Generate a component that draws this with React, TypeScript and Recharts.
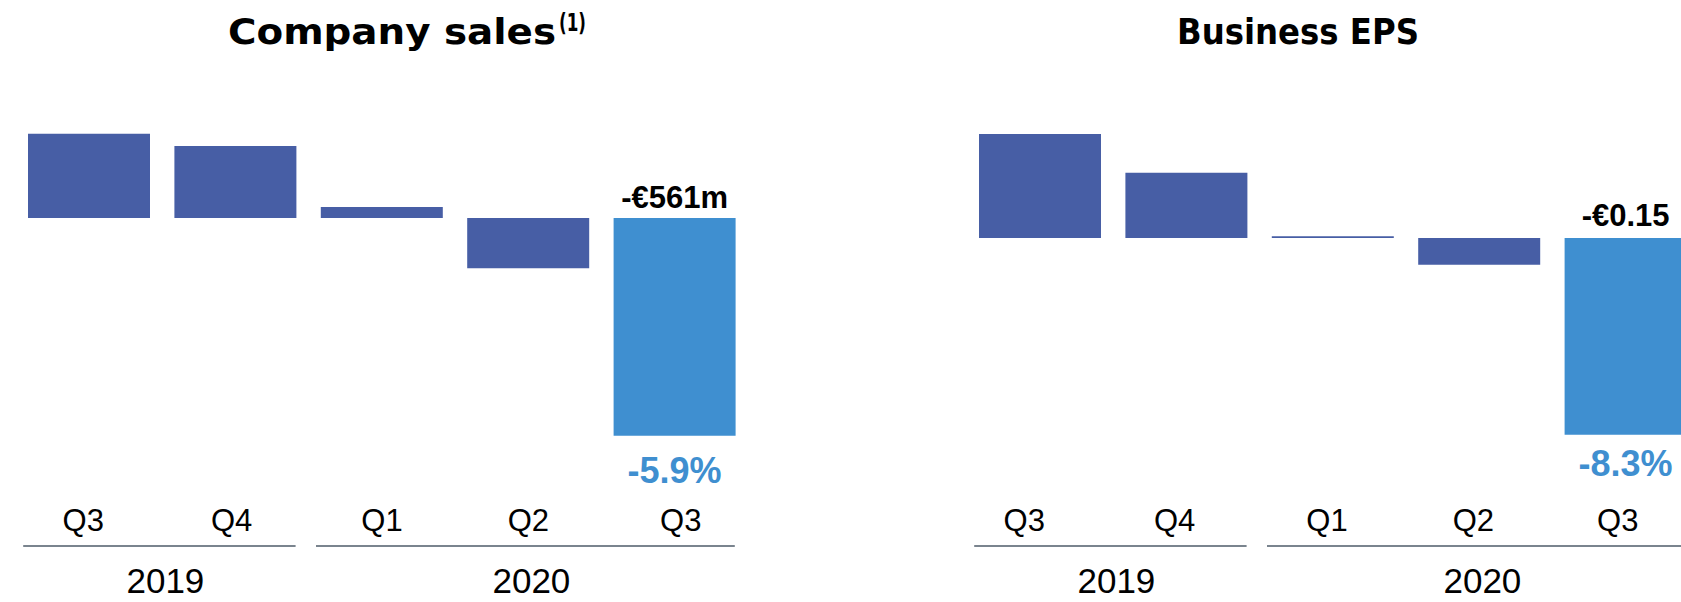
import React from 'react';
import { BarChart, Bar, XAxis, YAxis, Cell, LabelList } from 'recharts';

// ---- Data ----
const quarters = ['Q3', 'Q4', 'Q1', 'Q2', 'Q3'];
const years = ['2019', '2019', '2020', '2020', '2020'];
const salesValues = [2.28, 1.95, 0.3, -1.36, -5.9];
const epsValues = [4.39, 2.76, 0.08, -1.13, -8.3];
const salesAmountLabels = ['', '', '', '', '-€561m'];
const salesPctLabels = ['', '', '', '', '-5.9%'];
const epsAmountLabels = ['', '', '', '', '-€0.15'];
const epsPctLabels = ['', '', '', '', '-8.3%'];
const highlightIndex = 4;

// ---- Style / layout ----
const DARK = '#475EA5';
const LIGHT = '#3F8FD0';
const LINE_GREY = '#7A848E';
const FONT = '"Liberation Sans", Arial, sans-serif';
const TITLE_FONT = '"DejaVu Sans", sans-serif';
const CHART_W = 760;
const CHART_H = 602;
const PLOT_LEFT = 16;
const PLOT_W = 732;
const PLOT_TOP = 125.75;
const PLOT_BOTTOM = 439.4;
const XAXIS_H = 160;
const STEP = PLOT_W / quarters.length;
// small horizontal nudges of the quarter labels (layout only)
const salesLabelNudge = [-6, -4, 0, 0, 6];
const epsLabelNudge = [-16, -12, -6, -6, -8];

type Row = { key: string; quarter: string; year: string; value: number };

const buildData = (values: number[]): Row[] =>
  quarters.map((q, i) => ({ key: `${years[i]}-${q}`, quarter: q, year: years[i], value: values[i] }));

const makeTick = (data: Row[], nudge: number[]) => (props: any) => {
  const x = Number(props.x);
  const i: number = props.index ?? props.payload?.index ?? 0;
  const row = data[i];
  if (!row) return null;
  const isGroupStart = i === 0 || data[i - 1].year !== row.year;
  let group = null;
  if (isGroupStart) {
    let count = 0;
    for (let j = i; j < data.length && data[j].year === row.year; j++) count++;
    const x1 = x - 66;
    const x2 = x + (count - 1) * STEP + 60;
    group = (
      <g>
        <line x1={x1} y1={546} x2={x2} y2={546} stroke={LINE_GREY} strokeWidth={2} />
        <text x={(x1 + x2) / 2 + 6} y={593} textAnchor="middle" fontFamily={FONT} fontSize={35} fill="#000">
          {row.year}
        </text>
      </g>
    );
  }
  return (
    <g>
      <text x={x + (nudge[i] || 0)} y={531} textAnchor="middle" fontFamily={FONT} fontSize={31} fill="#000">
        {row.quarter}
      </text>
      {group}
    </g>
  );
};

const makeLabel = (amounts: string[], pcts: string[], amountGap: number, pctGap: number) => (props: any) => {
  const idx: number = props.index;
  const amount = amounts[idx];
  const pct = pcts[idx];
  if (!amount && !pct) return null;
  const x = Number(props.x);
  const y = Number(props.y);
  const w = Number(props.width);
  const h = Number(props.height);
  const top = Math.min(y, y + h);
  const bottom = Math.max(y, y + h);
  const cx = x + w / 2;
  return (
    <g>
      {amount ? (
        <text x={cx} y={top - amountGap} textAnchor="middle" fontFamily={FONT} fontWeight="bold" fontSize={31} fill="#000">
          {amount}
        </text>
      ) : null}
      {pct ? (
        <text x={cx} y={bottom + pctGap} textAnchor="middle" fontFamily={FONT} fontWeight="bold" fontSize={36} fill={LIGHT}>
          {pct}
        </text>
      ) : null}
    </g>
  );
};

type PanelProps = {
  values: number[];
  domain: [number, number];
  amounts: string[];
  pcts: string[];
  amountGap: number;
  pctGap: number;
  left: number;
  nudge: number[];
};

const Panel = ({ values, domain, amounts, pcts, amountGap, pctGap, left, nudge }: PanelProps) => {
  const data = buildData(values);
  return (
    <div style={{ position: 'absolute', left, top: 0, width: CHART_W, height: CHART_H }}>
      <BarChart
        width={CHART_W}
        height={CHART_H}
        data={data}
        margin={{
          top: PLOT_TOP,
          left: PLOT_LEFT,
          right: CHART_W - PLOT_LEFT - PLOT_W,
          bottom: CHART_H - PLOT_BOTTOM - XAXIS_H,
        }}
      >
        <XAxis
          dataKey="key"
          type="category"
          interval={0}
          tickLine={false}
          axisLine={false}
          height={XAXIS_H}
          tick={makeTick(data, nudge)}
        />
        <YAxis hide type="number" domain={domain} allowDataOverflow />
        <Bar dataKey="value" barSize={122} isAnimationActive={false}>
          {data.map((d, i) => (
            <Cell key={d.key} fill={i === highlightIndex ? LIGHT : DARK} />
          ))}
          <LabelList dataKey="value" content={makeLabel(amounts, pcts, amountGap, pctGap)} />
        </Bar>
      </BarChart>
    </div>
  );
};

export default function App() {
  return (
    <div
      style={{
        position: 'absolute',
        left: 0,
        top: 0,
        width: 1681,
        height: 602,
        overflow: 'hidden',
        background: '#fff',
      }}
    >
      <Panel
        values={salesValues}
        domain={[-6, 2.5]}
        amounts={salesAmountLabels}
        pcts={salesPctLabels}
        amountGap={10}
        pctGap={47}
        left={0}
        nudge={salesLabelNudge}
      />
      <Panel
        values={epsValues}
        domain={[-8.5, 4.74]}
        amounts={epsAmountLabels}
        pcts={epsPctLabels}
        amountGap={12}
        pctGap={41}
        left={951}
        nudge={epsLabelNudge}
      />
      <svg width={1681} height={602} style={{ position: 'absolute', left: 0, top: 0, pointerEvents: 'none' }}>
        <text
          x={228}
          y={44}
          fontFamily={TITLE_FONT}
          fontWeight="bold"
          fontSize={36}
          fill="#000"
          textLength={328}
          lengthAdjust="spacingAndGlyphs"
        >
          Company sales
        </text>
        <text
          x={559}
          y={31}
          fontFamily={TITLE_FONT}
          fontWeight="bold"
          fontSize={25}
          fill="#000"
          textLength={27}
          lengthAdjust="spacingAndGlyphs"
        >
          (1)
        </text>
        <text
          x={1177}
          y={44}
          fontFamily={TITLE_FONT}
          fontWeight="bold"
          fontSize={36}
          fill="#000"
          textLength={242}
          lengthAdjust="spacingAndGlyphs"
        >
          Business EPS
        </text>
      </svg>
    </div>
  );
}
